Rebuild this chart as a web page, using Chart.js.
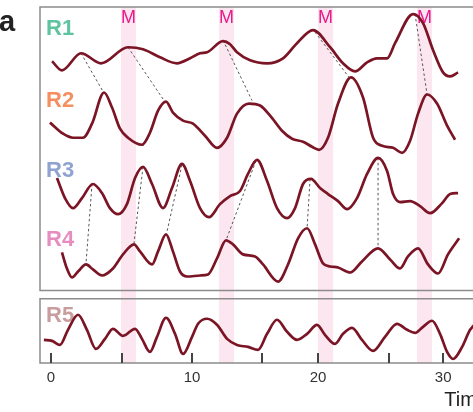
<!DOCTYPE html>
<html><head><meta charset="utf-8">
<script src="https://cdn.jsdelivr.net/npm/chart.js@4/dist/chart.umd.min.js"></script>
<style>
html,body{margin:0;padding:0;background:#fff;overflow:hidden;width:473px;height:412px;}
#wrap{position:absolute;left:0;top:0;width:488px;height:412px;}
</style></head>
<body><div id="wrap"><canvas id="c" width="488" height="412"></canvas></div>
<script>
// ---- data (time units on the x axis, trace heights in arbitrary units) ----
const r1T=[0.08,0.84,2.30,3.83,5.89,7.04,8.34,9.64,10.64,11.40,11.94,13.16,13.70,14.23,15.23,16.53,17.75,18.82,20.05,21.35,22.34,23.26,24.18,24.94,25.71,26.32,27.70,28.46,29.23,29.99,30.53,31.14];
const r1V=[300,291,308,298,314,312,304,298,303,308,309,320,317,309,301,298,303,318,331,314,298,290,299,303,303,318,347,338,311,289,285,289];
const r2T=[-0.08,0.92,1.68,2.45,3.14,4.06,4.67,5.28,5.89,6.96,7.57,8.19,8.80,9.33,10.10,10.86,11.78,12.70,13.47,14.23,15.15,15.99,16.76,17.67,18.44,19.28,19.97,20.51,21.19,21.96,22.95,23.87,24.64,25.33,26.17,26.86,27.47,28.08,28.77,29.53,30.30,30.91];
const r2V=[239,228,224,224,238,269,254,233,224,217,229,251,260,249,241,238,226,214,224,248,258,256,246,231,223,220,215,212,224,258,284,264,224,216,214,209,221,248,267,258,236,222];
const r3T=[0.46,1.07,1.68,2.37,3.21,3.90,4.51,5.13,5.81,6.43,7.04,7.73,8.57,9.26,10.02,10.64,11.40,12.09,12.93,13.70,14.46,15.07,15.76,16.53,17.29,18.06,18.67,19.28,19.89,20.58,21.19,21.96,22.65,23.41,24.18,25.02,25.71,26.17,26.70,27.47,28.23,29.00,29.92,30.53,31.14];
const r3V=[184,164,154,164,178,169,154,148,158,184,195,178,154,174,198,181,154,145,158,166,171,188,202,181,154,144,154,178,183,174,168,161,153,164,188,204,191,168,160,161,156,149,159,168,169];
const r4T=[0.84,1.22,1.61,2.07,2.68,3.21,3.90,4.74,5.51,6.35,6.81,7.73,8.19,8.80,9.33,9.87,10.41,11.40,12.01,12.70,13.39,13.92,14.69,15.61,16.22,17.37,18.13,18.90,19.59,20.20,20.81,21.35,21.96,22.88,23.79,25.02,25.94,26.70,27.31,28.08,28.84,29.61,30.37,31.22];
const r4V=[110,94,85,91,98,93,87,94,108,118,111,98,111,128,111,91,86,87,88,104,122,118,108,106,98,81,98,124,134,118,99,96,95,90,101,114,103,94,106,114,98,89,108,124];
const r5T=[-0.54,0.08,0.69,1.30,2.07,2.75,3.44,4.13,4.74,5.51,6.43,6.96,7.57,8.11,8.80,9.49,10.10,10.79,11.25,11.94,12.70,13.47,14.23,15.07,15.84,16.53,17.29,18.06,18.82,19.59,20.35,20.96,21.73,22.34,23.03,23.79,24.64,25.55,26.47,27.24,27.85,28.46,29.15,29.76,30.30,30.76,31.45,32.06,32.82];
const r5V=[23,22,18,33,48,33,14,24,34,27,34,24,11,26,45,29,9,26,39,44,38,24,18,16,13,29,43,31,23,29,38,28,19,29,35,23,12,26,39,33,30,36,42,29,11,4,16,33,43];
// peak-to-peak links: [t from, v from, t to, v to]
const linkFromT=[2.30,5.89,13.16,20.20,27.85,3.14,7.04,10.02,15.68,19.82,25.02];
const linkFromV=[308,314,321,329,347,178,195,197,201,183,204];
const linkToT  =[3.98,8.65,15.38,22.80,28.77,2.68,6.35,8.88,13.39,19.59,25.02];
const linkToV  =[270,261,261,284,267,99,119,131,122,134,114];
// mitosis bands (time)
const bandStart=[5.36,12.85,20.43,28.00];
const bandEnd  =[6.50,14.00,21.58,29.15];
const bandLabel=['M','M','M','M'];
// ticks
const tickVals=[0,5.43,10.79,16.15,20.43,25.87,30];
const tickLabels=['0','','10','','20','','30'];
const traceNames=['R1','R2','R3','R4','R5'];
const traceColors=['#5ec49f','#f68f60','#8fa3d1','#e68cbf','#c99d9d'];

// ---- layout / styles ----
const traceLabelY=[326,255,185,116,41];
const panels=[[72,354],[0,64]];
const Y_MAX=354;
const LINE='#7b1424';

const pts=(T,V)=>T.map((t,i)=>({x:t,y:V[i]}));
const traces=[[r1T,r1V],[r2T,r2V],[r3T,r3V],[r4T,r4V],[r5T,r5V]];
const datasets=traces.map(([T,V],i)=>({
  label:traceNames[i], data:pts(T,V), borderColor:LINE, borderWidth:2.7,
  pointRadius:0, cubicInterpolationMode:'monotone', fill:false
}));
linkFromT.forEach((t,i)=>datasets.push({
  label:'link'+i, data:[{x:t,y:linkFromV[i]},{x:linkToT[i],y:linkToV[i]}],
  borderColor:'#555', borderWidth:1, borderDash:[2.5,2.5], pointRadius:0, fill:false
}));

const decor={
  id:'decor',
  beforeDatasetsDraw(chart){
    const {ctx,chartArea:a,scales:{x,y}}=chart;
    ctx.save();
    ctx.fillStyle='#fce6f0';
    const top=y.getPixelForValue(Y_MAX), bot=y.getPixelForValue(0);
    bandStart.forEach((s,i)=>{
      const x0=x.getPixelForValue(s), x1=x.getPixelForValue(bandEnd[i]);
      ctx.fillRect(x0,top,x1-x0,bot-top);
    });
    ctx.strokeStyle='#8c8c8c'; ctx.lineWidth=1.5;
    panels.forEach(([lo,hi])=>{
      const t=y.getPixelForValue(hi), b=y.getPixelForValue(lo);
      ctx.beginPath(); ctx.moveTo(a.right+10,t); ctx.lineTo(a.left,t); ctx.lineTo(a.left,b); ctx.lineTo(a.right+10,b); ctx.stroke();
    });
    // tick marks (inward)
    ctx.strokeStyle='#444'; ctx.lineWidth=2;
    tickVals.forEach(v=>{
      const px=Math.round(x.getPixelForValue(v));
      ctx.beginPath(); ctx.moveTo(px,bot); ctx.lineTo(px,bot-10); ctx.stroke();
    });
    // M labels
    ctx.fillStyle='#e8198b'; ctx.font='18px "Liberation Sans", Arial, sans-serif';
    ctx.textAlign='center'; ctx.textBaseline='alphabetic';
    bandStart.forEach((s,i)=>{
      ctx.fillText(bandLabel[i], (x.getPixelForValue(s)+x.getPixelForValue(bandEnd[i]))/2, top+16);
    });
    // trace names
    ctx.textAlign='left'; ctx.font='bold 22px "Liberation Sans", Arial, sans-serif';
    traceNames.forEach((n,i)=>{
      ctx.fillStyle=traceColors[i];
      ctx.fillText(n, a.left+6, y.getPixelForValue(traceLabelY[i]));
    });
    // panel letter
    ctx.fillStyle='#222'; ctx.font='bold 29px "Liberation Sans", Arial, sans-serif';
    ctx.fillText('a', -1, 31);
    ctx.restore();
  }
};

new Chart(document.getElementById('c'),{
  type:'line',
  data:{datasets},
  options:{
    responsive:false, animation:false, parsing:true,
    layout:{padding:{left:40,top:7,right:0,bottom:0}},
    plugins:{legend:{display:false},tooltip:{enabled:false}},
    scales:{
      x:{type:'linear', min:-0.84, max:33.43,
        afterBuildTicks(s){ s.ticks=tickVals.map(v=>({value:v})); },
        ticks:{autoSkip:false, maxRotation:0, padding:6, color:'#333',
          font:{size:15,family:'"Liberation Sans", Arial, sans-serif'},
          callback:(v,i)=>tickLabels[i]},
        grid:{display:false, drawTicks:false},
        border:{display:false},
        title:{display:true, text:'Time', align:'end', color:'#222',
          font:{size:20,family:'"Liberation Sans", Arial, sans-serif'}, padding:{top:-5,bottom:0}}
      },
      y:{type:'linear', display:false, min:0, max:Y_MAX}
    }
  },
  plugins:[decor]
});
</script></body></html>
